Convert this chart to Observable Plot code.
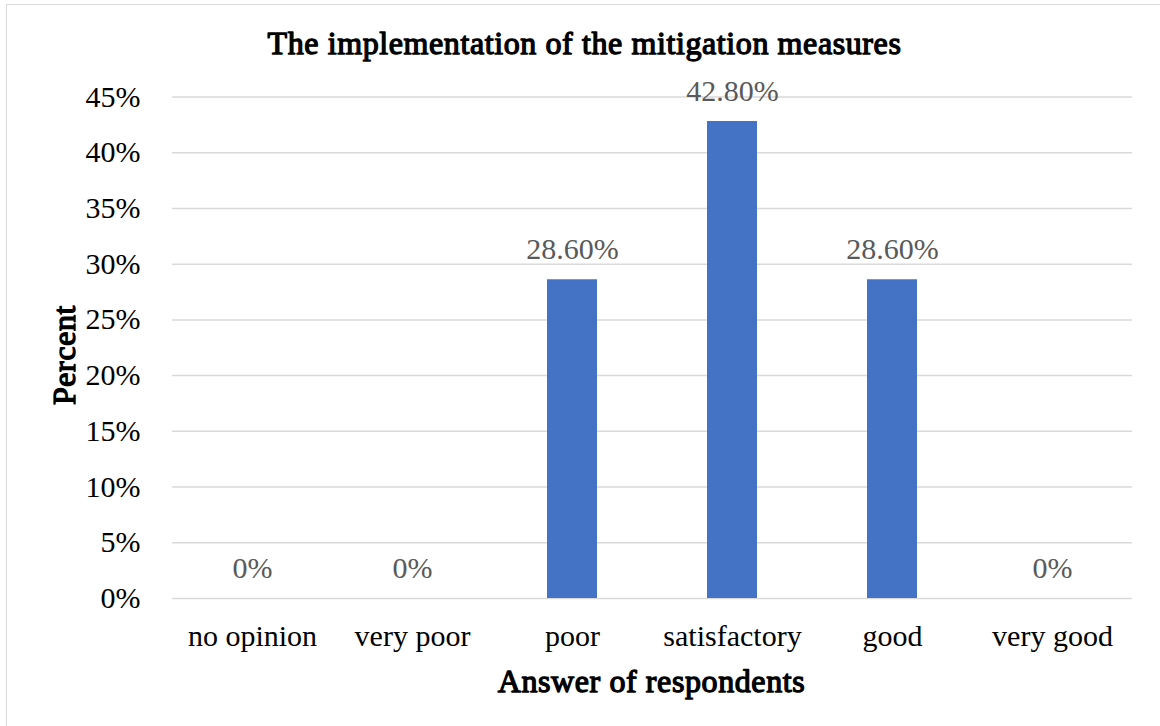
<!DOCTYPE html>
<html>
<head>
<meta charset="utf-8">
<script src="https://cdn.jsdelivr.net/npm/d3@7"></script>
<script src="https://cdn.jsdelivr.net/npm/@observablehq/plot@0.6"></script>
<style>
  html, body { margin: 0; padding: 0; background: #fff; }
  #border { position: absolute; left: 6px; top: 4px; width: 1200px; height: 760px; border: 1.5px solid #d9d9d9; box-sizing: border-box; }
  #overlay { position: absolute; left: 0; top: 0; }
</style>
</head>
<body>
<div id="chart"></div>
<div id="border"></div>
<div id="overlay"></div>
<script>
const categories = ["no opinion", "very poor", "poor", "satisfactory", "good", "very good"];
const values = [0, 0, 28.6, 42.8, 28.6, 0];
const yTicks = [0, 5, 10, 15, 20, 25, 30, 35, 40, 45];
const chartTitle = "The implementation of the mitigation measures";
const xTitle = "Answer of respondents";
const yTitle = "Percent";

const data = categories.map((c, i) => ({category: c, value: values[i]}));
const fmt = v => v === 0 ? "0%" : v.toFixed(2) + "%";

const chart = Plot.plot({
  width: 1160,
  height: 726,
  marginLeft: 172,
  marginRight: 28,
  marginTop: 96.5,
  marginBottom: 128,
  style: {fontSize: "30px", fontFamily: "Liberation Serif"},
  x: {domain: categories, paddingInner: 0.6875, paddingOuter: 0.34375, label: null},
  y: {domain: [0, 45], label: null},
  marks: [
    Plot.ruleY(yTicks, {stroke: "#d9d9d9", strokeWidth: 1.5}),
    Plot.barY(data, {x: "category", y: "value", fill: "#4472C4"}),
    Plot.text(data, {x: "category", y: "value", text: d => fmt(d.value), dy: -30, fill: "#595959", fontSize: 30, fontFamily: "Liberation Serif"}),
    Plot.axisY({ticks: yTicks, tickFormat: d => d + "%", tickSize: 0, tickPadding: 32, fontSize: 30, label: null}),
    Plot.axisX({tickSize: 0, tickPadding: 26, fontSize: 30, label: null, fontFamily: "Liberation Serif"})
  ]
});
document.getElementById("chart").appendChild(chart);

// Titles (heavy serif drawn from the same regular face, thickened with a stroke)
const svg = d3.select("#overlay").append("svg").attr("width", 1160).attr("height", 726)
  .attr("fill", "#000").attr("text-anchor", "middle");
const addTitle = (txt) => svg.append("text")
  .attr("font-family", "Liberation Serif")
  .attr("font-size", 32)
  .attr("letter-spacing", 0.6)
  .attr("stroke", "#000").attr("stroke-width", 1.3).attr("stroke-linejoin", "round")
  .text(txt);
addTitle(chartTitle).attr("x", 584.5).attr("y", 54);
addTitle(xTitle).attr("x", 651.5).attr("y", 692);
addTitle(yTitle).attr("transform", "translate(75,355) rotate(-90)");
</script>
</body>
</html>
